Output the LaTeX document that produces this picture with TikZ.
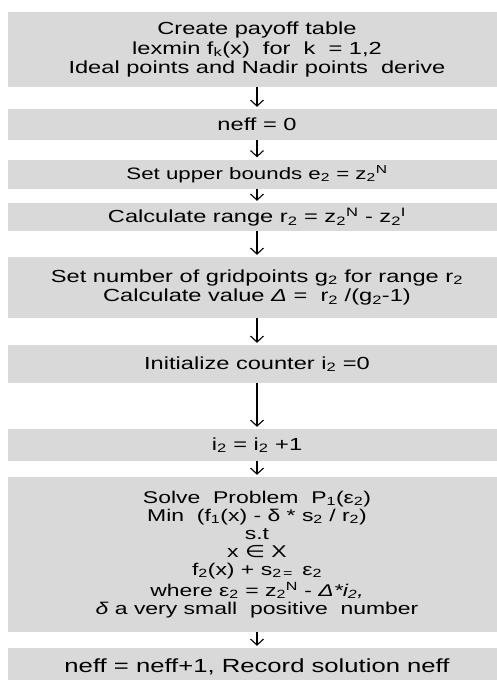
\documentclass[tikz,border=0pt]{standalone}
\usepackage{fontspec}
\setmainfont[FakeStretch=1.35]{Liberation Sans}
\newfontfamily\symfont[FakeStretch=1.35]{DejaVu Sans}
\usetikzlibrary{arrows.meta}
\definecolor{boxgray}{HTML}{D9D9D9}
\begin{document}
\begin{tikzpicture}[x=1pt,y=-1pt,
  box/.style={fill=boxgray, draw=none, minimum width=498pt, inner sep=0pt, align=center,
    font=\fontsize{17.5}{19.5}\selectfont},
  arr/.style={-{Straight Barb[length=6pt,width=13pt,line width=1.1pt]}, line width=1.2pt, shorten >=2pt}]
\useasboundingbox (0,0) rectangle (497,680);
\fill[white] (0,0) rectangle (497,680);
\begin{scope}
\clip (0,0) rectangle (497,680);
\node[box, minimum height=75pt] (b1) at (257,49.5) {Create payoff table\\
  lexmin f\textsubscript{k}(x)\ \ for\ \ k\ \ = 1,2\\
  Ideal points and Nadir points\ \ derive};
\node[box, minimum height=31pt] (b2) at (257,124.5) {neff = 0};
\node[box, minimum height=29pt, font=\fontsize{16.5}{19}\selectfont] (b3) at (257,174) {Set upper bounds e\textsubscript{2} = z\textsubscript{2}\textsuperscript{N}};
\node[box, minimum height=28pt] (b4) at (257,217) {Calculate range r\textsubscript{2} = z\textsubscript{2}\textsuperscript{N} - z\textsubscript{2}\textsuperscript{I}};
\node[box, minimum height=61pt] (b5) at (257,287.5) {Set number of gridpoints g\textsubscript{2} for range r\textsubscript{2}\\
  Calculate value \textit{Δ} =\ \ r\textsubscript{2} /(g\textsubscript{2}-1)};
\node[box, minimum height=38pt] (b6) at (257,364) {Initialize counter i\textsubscript{2} =0};
\node[box, minimum height=32pt] (b7) at (257,445) {i\textsubscript{2} = i\textsubscript{2} +1};
\node[box, minimum height=155pt, font=\fontsize{17}{18}\selectfont] (b8) at (257,554.5) {Solve\ \ Problem\ \ P\textsubscript{1}(ε\textsubscript{2})\\
  Min\ \ (f\textsubscript{1}(x) - δ * s\textsubscript{2} / r\textsubscript{2})\\
  s.t\\
  x {\symfont ∈} X\\
  f\textsubscript{2}(x) + s\textsubscript{2\,=}\ \,ε\textsubscript{2}\\[3pt]
  where ε\textsubscript{2} = z\textsubscript{2}\textsuperscript{N} - \textit{Δ*i\textsubscript{2},}\\
  \textit{δ} a very small\ \ positive\ \ number};
\node[box, minimum height=38pt, font=\fontsize{19}{21}\selectfont] (b9) at (257,667) {neff = neff+1, Record solution neff};
\end{scope}
\draw[arr] (b1.south) -- (b2.north);
\draw[arr] (b2.south) -- (b3.north);
\draw[arr] (b3.south) -- (b4.north);
\draw[arr] (b4.south) -- (b5.north);
\draw[arr] (b5.south) -- (b6.north);
\draw[arr] (b6.south) -- (b7.north);
\draw[arr] (b7.south) -- (b8.north);
\draw[arr] (b8.south) -- (b9.north);
\end{tikzpicture}
\end{document}
